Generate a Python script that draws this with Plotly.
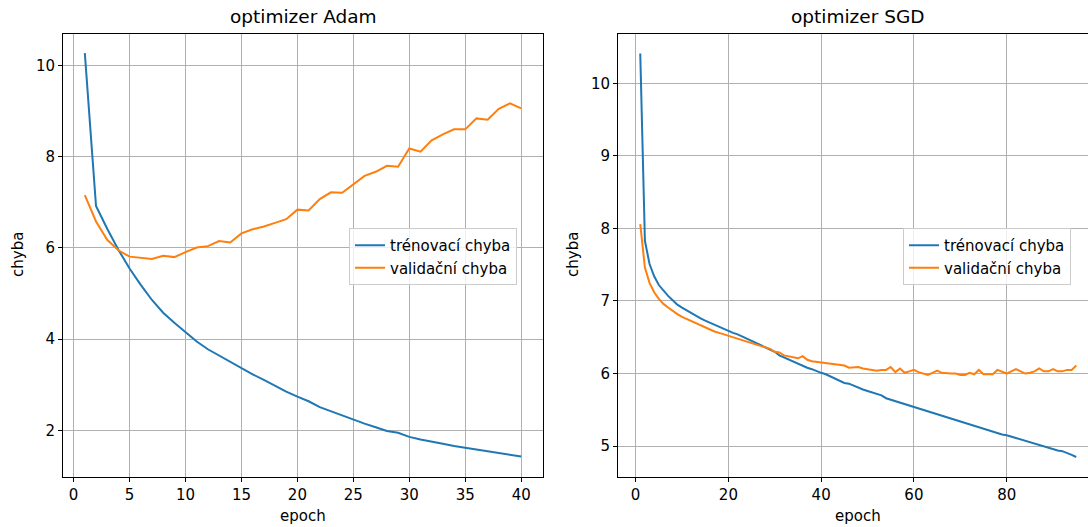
import plotly.graph_objects as go

# ---- data ----
adam_epochs = list(range(1, 41))
adam_train = [10.27, 6.92, 6.42, 5.96, 5.55, 5.19, 4.86, 4.58, 4.36, 4.16,
              3.95, 3.78, 3.64, 3.50, 3.36, 3.23, 3.11, 2.98, 2.85, 2.74,
              2.64, 2.51, 2.42, 2.33, 2.23, 2.15, 2.07, 1.99, 1.95, 1.86,
              1.80, 1.76, 1.71, 1.66, 1.62, 1.58, 1.54, 1.50, 1.47, 1.43]
adam_val = [7.16, 6.58, 6.18, 5.95, 5.81, 5.79, 5.76, 5.83, 5.80, 5.91,
            6.01, 6.04, 6.15, 6.12, 6.32, 6.41, 6.47, 6.55, 6.63, 6.84,
            6.82, 7.07, 7.22, 7.21, 7.40, 7.58, 7.67, 7.80, 7.78, 8.18,
            8.11, 8.36, 8.49, 8.60, 8.60, 8.84, 8.81, 9.05, 9.17, 9.06]

sgd_epochs = list(range(1, 96))
sgd_train = [10.41, 7.83, 7.51, 7.34, 7.22, 7.14, 7.07, 7.01, 6.95, 6.91,
             6.87, 6.83, 6.80, 6.76, 6.73, 6.70, 6.67, 6.64, 6.62, 6.59,
             6.56, 6.54, 6.51, 6.48, 6.46, 6.43, 6.40, 6.37, 6.33, 6.30,
             6.25, 6.22, 6.20, 6.17, 6.14, 6.11, 6.08, 6.06, 6.03, 6.01,
             5.99, 5.96, 5.93, 5.91, 5.87, 5.86, 5.83, 5.80, 5.78, 5.76,
             5.74, 5.71, 5.70, 5.66, 5.64, 5.62, 5.60, 5.57, 5.55, 5.54,
             5.52, 5.50, 5.47, 5.46, 5.43, 5.41, 5.39, 5.37, 5.35, 5.34,
             5.31, 5.29, 5.27, 5.25, 5.24, 5.22, 5.20, 5.17, 5.16, 5.15,
             5.13, 5.11, 5.09, 5.07, 5.06, 5.04, 5.01, 5.00, 4.98, 4.96,
             4.94, 4.93, 4.91, 4.88, 4.85]
sgd_val = [8.06, 7.46, 7.25, 7.12, 7.03, 6.96, 6.91, 6.86, 6.82, 6.78,
           6.75, 6.72, 6.69, 6.66, 6.63, 6.61, 6.58, 6.56, 6.54, 6.52,
           6.49, 6.47, 6.45, 6.43, 6.41, 6.39, 6.37, 6.36, 6.34, 6.30,
           6.29, 6.25, 6.24, 6.23, 6.21, 6.24, 6.19, 6.17, 6.16, 6.15,
           6.14, 6.14, 6.12, 6.12, 6.11, 6.08, 6.09, 6.09, 6.07, 6.06,
           6.06, 6.04, 6.05, 6.05, 6.09, 6.02, 6.07, 6.01, 6.03, 6.05,
           6.02, 6.00, 5.98, 6.01, 6.04, 6.01, 6.00, 6.00, 6.00, 5.98,
           5.98, 6.01, 5.99, 6.05, 5.99, 5.99, 5.99, 6.05, 6.03, 6.00,
           6.03, 6.06, 6.03, 6.00, 6.01, 6.03, 6.07, 6.03, 6.03, 6.06,
           6.03, 6.03, 6.05, 6.05, 6.11]

titles = ["optimizer Adam", "optimizer SGD"]
series_names = ["trénovací chyba", "validační chyba"]
x_label = "epoch"
y_label = "chyba"

BLUE = "#1f77b4"
ORANGE = "#ff7f0e"
FONT = "DejaVu Sans"
W, H = 1088, 527
FS = 15

fig = go.Figure()
fig.add_trace(go.Scatter(x=adam_epochs, y=adam_train, mode="lines", name=series_names[0],
                         line=dict(color=BLUE, width=2), xaxis="x", yaxis="y", legend="legend"))
fig.add_trace(go.Scatter(x=adam_epochs, y=adam_val, mode="lines", name=series_names[1],
                         line=dict(color=ORANGE, width=2), xaxis="x", yaxis="y", legend="legend"))
fig.add_trace(go.Scatter(x=sgd_epochs, y=sgd_train, mode="lines", name=series_names[0],
                         line=dict(color=BLUE, width=2), xaxis="x2", yaxis="y2", legend="legend2"))
fig.add_trace(go.Scatter(x=sgd_epochs, y=sgd_val, mode="lines", name=series_names[1],
                         line=dict(color=ORANGE, width=2), xaxis="x2", yaxis="y2", legend="legend2"))

ydom = [1 - 477 / H, 1 - 34 / H]
common = dict(showgrid=True, gridcolor="#b0b0b0", gridwidth=1, zeroline=False,
              showline=True, linecolor="black", linewidth=1,
              ticks="outside", ticklen=4, tickwidth=1, tickcolor="black",
              tickfont=dict(family=FONT, size=FS, color="black"))

legend_common = dict(bgcolor="rgba(255,255,255,0.8)", bordercolor="#cccccc", borderwidth=1,
                     font=dict(family=FONT, size=FS, color="black"),
                     xanchor="left", yanchor="top", itemwidth=30, tracegroupgap=0)

fig.update_layout(
    width=W, height=H,
    margin=dict(l=0, r=0, t=0, b=0),
    paper_bgcolor="white", plot_bgcolor="white",
    showlegend=True,
    xaxis=dict(domain=[63 / W, 543 / W], range=[-0.95, 41.95], tickvals=[0, 5, 10, 15, 20, 25, 30, 35, 40],
               mirror=True, anchor="y", **common),
    yaxis=dict(domain=ydom, range=[0.98, 10.69], tickvals=[2, 4, 6, 8, 10],
               mirror=True, anchor="x", **common),
    xaxis2=dict(domain=[618 / W, 1.0], range=[-3.8, 97.53], tickvals=[0, 20, 40, 60, 80],
                mirror=True, anchor="y2", **common),
    yaxis2=dict(domain=ydom, range=[4.574, 10.68], tickvals=[5, 6, 7, 8, 9, 10],
                mirror=False, anchor="x2", **common),
    legend=dict(x=349 / W, y=1 - 228 / H, **legend_common),
    legend2=dict(x=903 / W, y=1 - 228 / H, **legend_common),
)

ann = []
for txt, cx in [(titles[0], 303), (titles[1], 858)]:
    ann.append(dict(text=txt, x=cx / W, y=1 - 17 / H, xref="paper", yref="paper",
                    xanchor="center", yanchor="middle", showarrow=False,
                    font=dict(family=FONT, size=18.5, color="black")))
for cx in [303, 858]:
    ann.append(dict(text=x_label, x=cx / W, y=1 - 516 / H, xref="paper", yref="paper",
                    xanchor="center", yanchor="middle", showarrow=False,
                    font=dict(family=FONT, size=FS, color="black")))
for cx, cy in [(18, 255), (573, 255)]:
    ann.append(dict(text=y_label, x=cx / W, y=1 - cy / H, xref="paper", yref="paper",
                    xanchor="center", yanchor="middle", showarrow=False, textangle=-90,
                    font=dict(family=FONT, size=FS, color="black")))
fig.update_layout(annotations=ann)

fig.write_html("out.html")
